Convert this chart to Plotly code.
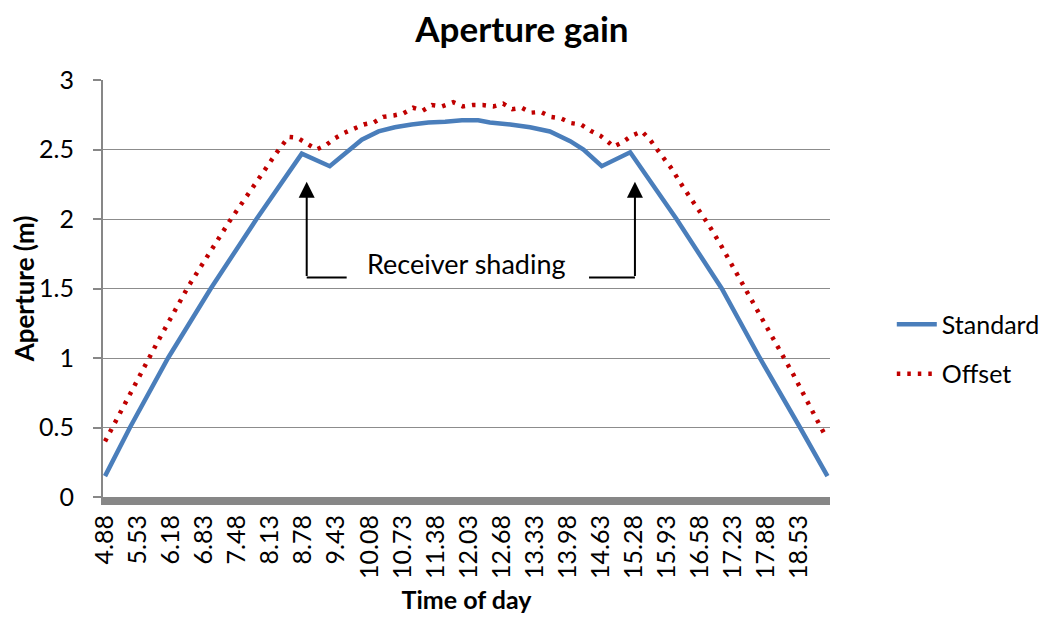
import plotly.graph_objects as go

# ---- data ----
std_time = [4.88, 5.37, 6.12, 6.96, 7.86, 8.75, 9.30, 9.60, 9.93, 10.26, 10.58, 10.91,
            11.24, 11.57, 11.90, 12.22, 12.45, 12.85, 13.24, 13.63, 14.03, 14.29, 14.65,
            15.21, 16.12, 17.01, 17.76, 18.55, 19.09]
std_aperture = [0.15, 0.50, 1.00, 1.50, 2.00, 2.47, 2.38, 2.47, 2.57, 2.63, 2.66, 2.68,
                2.695, 2.70, 2.71, 2.71, 2.695, 2.68, 2.66, 2.63, 2.56, 2.50, 2.38,
                2.48, 2.00, 1.50, 1.00, 0.50, 0.15]

off_time = [4.88, 5.39, 5.92, 6.51, 7.34, 8.26, 8.49, 8.66, 8.86, 9.04, 9.22, 9.40, 9.59,
            9.78, 9.97, 10.17, 10.35, 10.56, 10.75, 10.94, 11.13, 11.31, 11.51, 11.73,
            11.92, 12.11, 12.31, 12.52, 12.71, 12.89, 13.08, 13.26, 13.45, 13.65, 13.84,
            14.05, 14.24, 14.43, 14.62, 14.79, 14.88, 15.05, 15.24, 15.44, 15.60, 15.74,
            16.01, 16.25, 16.50, 16.75, 16.98, 17.21, 17.43, 17.65, 18.09, 18.42, 18.84,
            19.05]
off_aperture = [0.40, 0.76, 1.12, 1.51, 1.99, 2.48, 2.59, 2.585, 2.545, 2.50, 2.53, 2.58,
                2.62, 2.65, 2.68, 2.695, 2.735, 2.745, 2.76, 2.80, 2.78, 2.82, 2.81, 2.84,
                2.81, 2.82, 2.82, 2.81, 2.83, 2.79, 2.80, 2.765, 2.77, 2.735, 2.725, 2.69,
                2.68, 2.635, 2.60, 2.55, 2.52, 2.55, 2.60, 2.63, 2.57, 2.50, 2.37, 2.23,
                2.10, 1.96, 1.82, 1.67, 1.53, 1.39, 1.10, 0.88, 0.585, 0.44]

x_tick_labels = ["4.88", "5.53", "6.18", "6.83", "7.48", "8.13", "8.78", "9.43", "10.08",
                 "10.73", "11.38", "12.03", "12.68", "13.33", "13.98", "14.63", "15.28",
                 "15.93", "16.58", "17.23", "17.88", "18.53"]
x_tick_values = [float(s) for s in x_tick_labels]
y_tick_values = [0, 0.5, 1, 1.5, 2, 2.5, 3]
y_tick_labels = ["0", "0.5", "1", "1.5", "2", "2.5", "3"]

FONT = "Lato"
GRAY = "#878787"

fig = go.Figure()
fig.add_trace(go.Scatter(
    x=std_time, y=std_aperture, name="Standard", mode="lines",
    line=dict(color="#4A7EBB", width=4.5), legendgroup="a"))
fig.add_trace(go.Scatter(
    x=off_time, y=off_aperture, name="Offset", mode="lines",
    line=dict(color="#C00000", width=4.5, dash="3.5px,7px"), legendgroup="b"))

# "Receiver shading" callout
for tip_x, elbow_x in [(8.847, 9.633), (15.303, 14.40)]:
    fig.add_shape(type="line", xref="x", yref="y", x0=tip_x, x1=elbow_x, y0=1.58, y1=1.58,
                  line=dict(color="black", width=2))
    fig.add_annotation(x=tip_x, y=2.268, ax=tip_x, ay=1.58, xref="x", yref="y",
                       axref="x", ayref="y", text="", showarrow=True, arrowhead=2,
                       arrowsize=1.6, arrowwidth=2, arrowcolor="black")
fig.add_annotation(x=11.99, y=1.68, xref="x", yref="y", text="Receiver shading",
                   showarrow=False, font=dict(family=FONT, size=27, color="black"))

fig.update_layout(
    width=1050, height=617,
    margin=dict(l=95, r=228, t=72, b=128),
    paper_bgcolor="white", plot_bgcolor="white",
    title=dict(text="<b>Aperture gain</b>", x=0.4895, xanchor="center", y=0.965,
               yanchor="middle", yref="container",
               font=dict(family=FONT, size=35, color="black")),
    font=dict(family=FONT, color="black"),
    showlegend=True,
    legend=dict(x=1.085, xanchor="left", y=0.355, yanchor="middle",
                font=dict(family=FONT, size=25, color="black"),
                traceorder="grouped", tracegroupgap=14, itemwidth=40,
                bgcolor="rgba(0,0,0,0)"),
)
fig.update_xaxes(
    range=[4.84, 19.14], tickmode="array", tickvals=x_tick_values, ticktext=x_tick_labels,
    tickangle=-90, tickfont=dict(family=FONT, size=25, color="black"),
    showgrid=False, zeroline=False, showline=True, linecolor=GRAY, linewidth=8,
    ticks="", automargin=False,
    title=dict(text="<b>Time of day</b>", font=dict(family=FONT, size=25), standoff=17))
fig.update_yaxes(
    range=[0, 3], tickmode="array", tickvals=y_tick_values, ticktext=y_tick_labels,
    tickfont=dict(family=FONT, size=25, color="black"),
    showgrid=True, gridcolor="#8C8C8C", gridwidth=1.3, zeroline=False,
    showline=True, linecolor=GRAY, linewidth=2, ticks="outside", ticklen=8,
    tickcolor=GRAY, tickwidth=1.5, ticklabelstandoff=14, automargin=False,
    title=dict(text="<b>Aperture (m)</b>", font=dict(family=FONT, size=26), standoff=18))

fig.write_html("out.html")
